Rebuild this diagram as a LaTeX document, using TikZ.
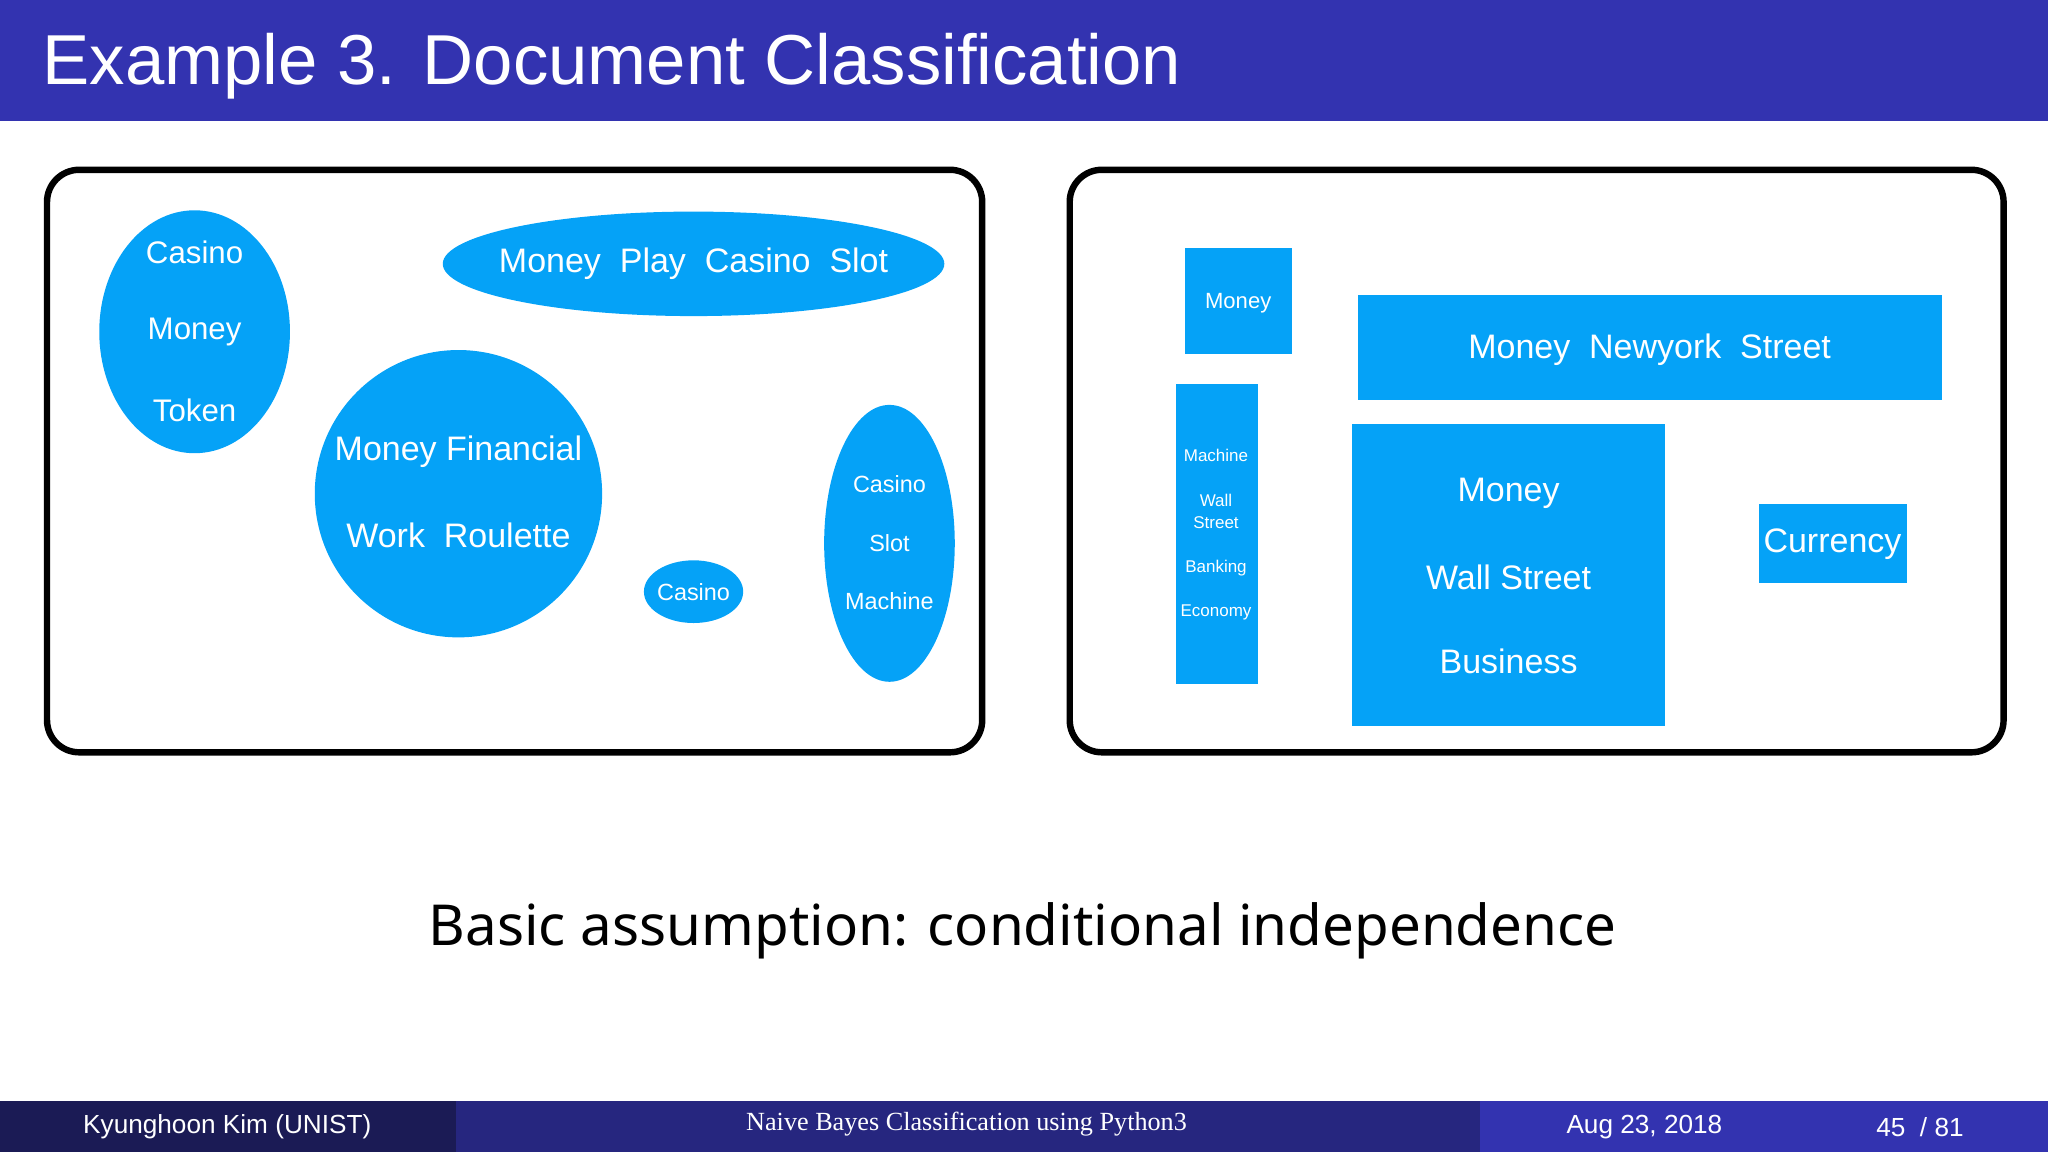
\documentclass[tikz,border=0pt]{standalone}
\usepackage{fontspec}
\setmainfont{Liberation Sans}
\newfontfamily\notof{Noto Sans}
\newfontfamily\seriff{Liberation Serif}
\definecolor{titleblue}{HTML}{3333B0}
\definecolor{bubble}{HTML}{05A2F7}
\definecolor{footA}{HTML}{1B1B55}
\definecolor{footB}{HTML}{26267F}
\newcommand{\fsz}[1]{\fontsize{#1}{#1}\selectfont}
\begin{document}
\begin{tikzpicture}[x=0.01cm,y=-0.01cm,
  frame/.style={draw=black,line width=1.4pt,rounded corners=7pt},
  blob/.style={fill=bubble,draw=none},
  wt/.style={text=white,inner sep=0pt,anchor=center}]
\useasboundingbox (0,0) rectangle (1568,882);
\fill[titleblue] (0,0) rectangle (1568,93);
\node[text=white,anchor=base west,inner sep=0pt] (title) at (32,65) {\fsz{15.4pt}Example 3. Document Classification};
% frames
\draw[frame] (36,130) rectangle (752,576);
\draw[frame] (819,130) rectangle (1534,576);
% left ellipses
\fill[blob] (149,254) ellipse [x radius=73,y radius=93];
\node[wt] (e1a) at (149,193) {\fsz{6.8pt}Casino};
\node[wt] (e1b) at (149,254) {\fsz{6.8pt}Money};
\node[wt] (e1c) at (149,314) {\fsz{6.8pt}Token};
\fill[blob] (531,202) ellipse [x radius=192,y radius=40];
\node[wt] (e2) at (531,202) {\fsz{7.4pt}Money\ \ Play\ \ Casino\ \ Slot};
\fill[blob] (351,378) circle [radius=110];
\node[wt] (e3a) at (351,346) {\fsz{7.4pt}Money Financial};
\node[wt] (e3b) at (351,410) {\fsz{7.4pt}Work\ \ Roulette};
\fill[blob] (531,453) ellipse [x radius=38,y radius=24];
\node[wt] (e4) at (531,453) {\fsz{5.1pt}Casino};
\fill[blob] (681,416) ellipse [x radius=50,y radius=106];
\node[wt] (e5a) at (681,371) {\fsz{5.1pt}Casino};
\node[wt] (e5b) at (681,416) {\fsz{5.1pt}Slot};
\node[wt] (e5c) at (681,460) {\fsz{5.1pt}Machine};
% right rectangles
\fill[blob] (907,190) rectangle (989,271);
\node[wt] (r1) at (948,232) {\fsz{4.8pt}Money};
\fill[blob] (1040,226) rectangle (1487,306);
\node[wt] (r2) at (1263,268) {\fsz{7.4pt}Money\ \ Newyork\ \ Street};
\fill[blob] (900,294) rectangle (963,524);
\node[wt] (r3a) at (931,349) {\fsz{3.7pt}Machine};
\node[wt] (r3b) at (931,383) {\fsz{3.7pt}Wall};
\node[wt] (r3c) at (931,400) {\fsz{3.7pt}Street};
\node[wt] (r3d) at (931,435) {\fsz{3.7pt}Banking};
\node[wt] (r3e) at (931,469) {\fsz{3.7pt}Economy};
\fill[blob] (1035,325) rectangle (1275,556);
\node[wt] (r4a) at (1155,378) {\fsz{7.4pt}Money};
\node[wt] (r4b) at (1155,442) {\fsz{7.4pt}Wall Street};
\node[wt] (r4c) at (1155,506) {\fsz{7.4pt}Business};
\fill[blob] (1347,386) rectangle (1460,446);
\node[wt] (r5) at (1403,417) {\fsz{7.4pt}Currency};
% bottom text
\node[anchor=base,inner sep=0pt] (basic) at (783,724) {\notof\fsz{12.3pt}Basic assumption: conditional independence};
% footer
\fill[footA] (0,843) rectangle (349,882);
\fill[footB] (349,843) rectangle (1133,882);
\fill[titleblue] (1133,843) rectangle (1568,882);
\node[text=white,inner sep=0pt] (f1) at (174,863) {\fsz{5.7pt}Kyunghoon Kim (UNIST)};
\node[text=white,inner sep=0pt] (f2) at (740,861) {\seriff\fsz{5.7pt}Naive Bayes Classification using Python3};
\node[text=white,inner sep=0pt] (f3) at (1259,863) {\fsz{5.7pt}Aug 23, 2018};
\node[text=white,inner sep=0pt] (f4) at (1470,863) {\fsz{5.7pt}45\ \ / 81};
\end{tikzpicture}
\end{document}
